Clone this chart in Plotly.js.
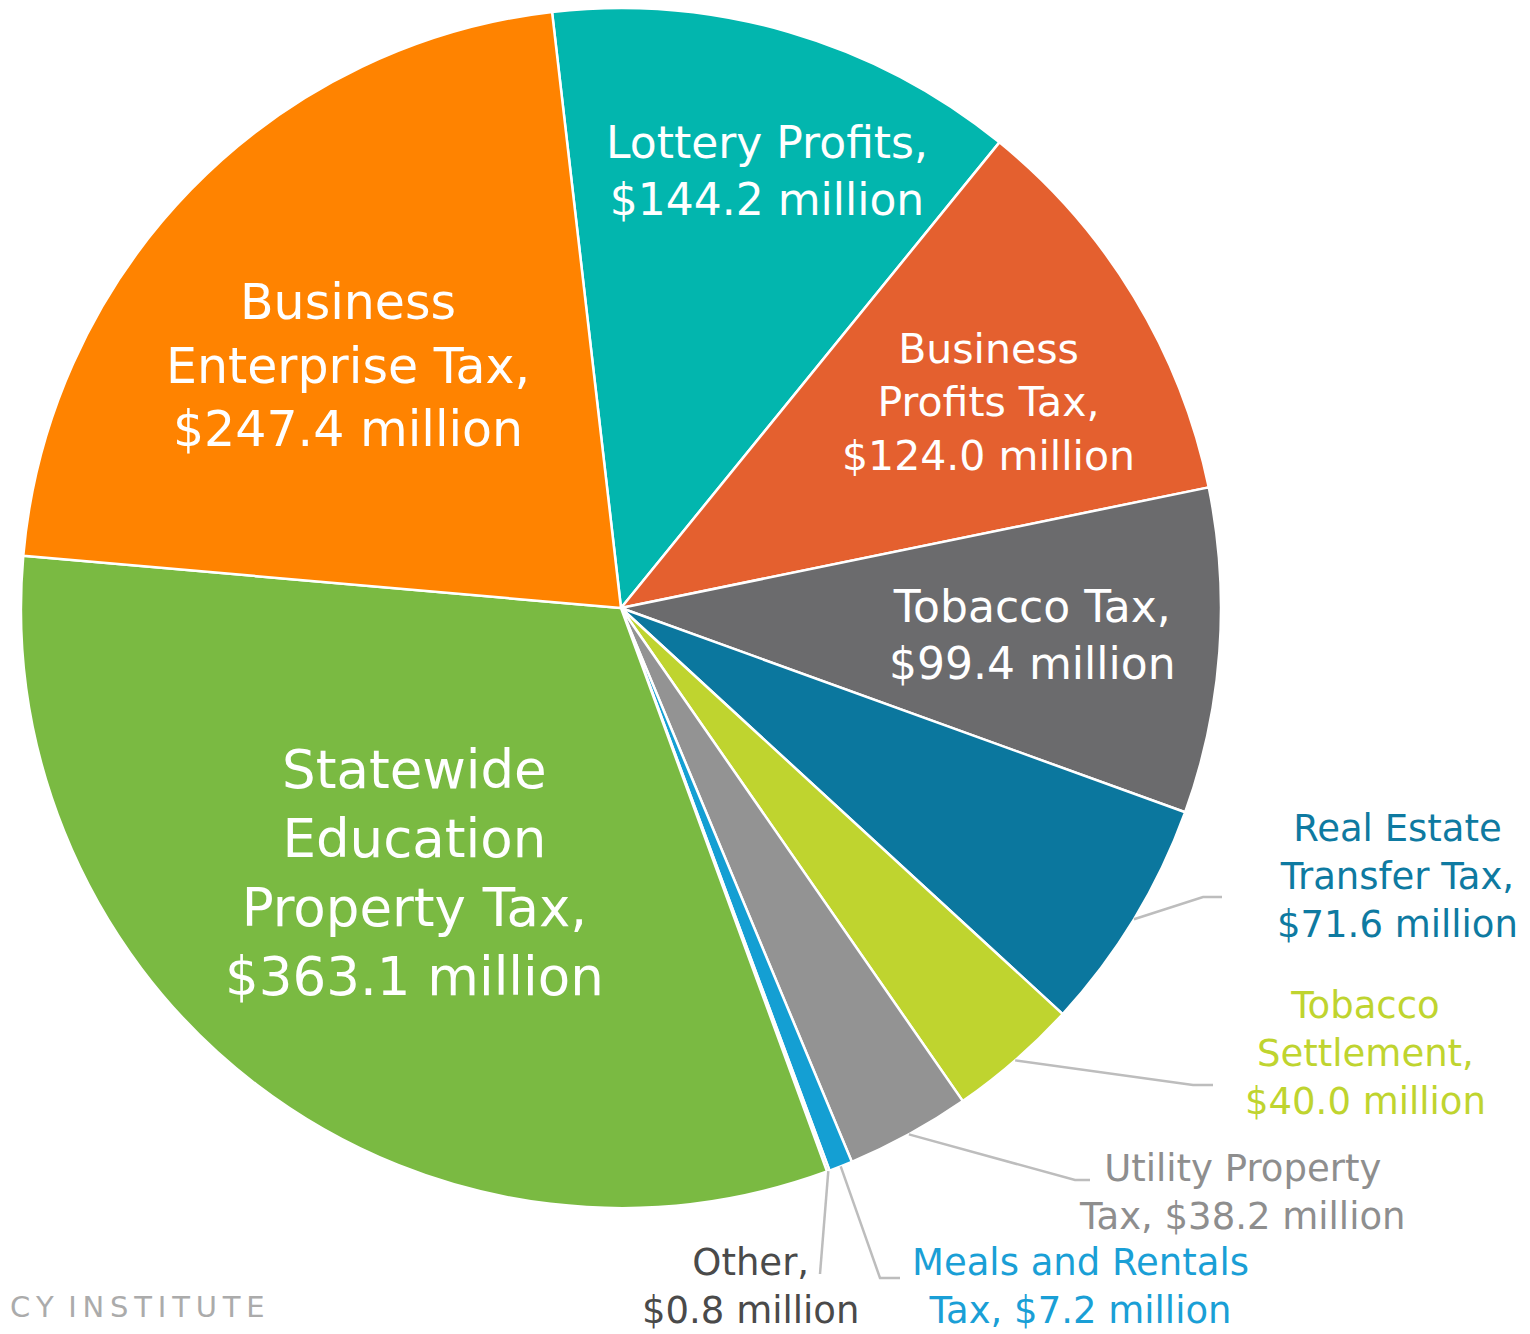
<!DOCTYPE html>
<html>
<head>
<meta charset="utf-8">
<script src="https://cdn.plot.ly/plotly-3.0.1.min.js"></script>
<style>
  html, body { margin: 0; padding: 0; background: #fff; }
  #pie { width: 1530px; height: 1334px; }
</style>
</head>
<body>
<div id="pie"></div>
<script>
// Revenue sources, millions of dollars, in clockwise order from the top
var sources = ['Lottery Profits', 'Business Profits Tax', 'Tobacco Tax',
               'Real Estate Transfer Tax', 'Tobacco Settlement',
               'Utility Property Tax', 'Meals and Rentals Tax', 'Other',
               'Statewide Education Property Tax', 'Business Enterprise Tax'];
var amounts = [144.2, 124.0, 99.4, 71.6, 40.0, 38.2, 7.2, 0.8, 363.1, 247.4];

// label text, {v} gets the amount
var labelText = ['Lottery Profits,<br>{v}',
                 'Business<br>Profits Tax,<br>{v}',
                 'Tobacco Tax,<br>{v}',
                 'Real Estate<br>Transfer Tax,<br>{v}',
                 'Tobacco<br>Settlement,<br>{v}',
                 'Utility Property<br>Tax, {v}',
                 'Meals and Rentals<br>Tax, {v}',
                 'Other,<br>{v}',
                 'Statewide<br>Education<br>Property Tax,<br>{v}',
                 'Business<br>Enterprise Tax,<br>{v}'];

var sliceColors = ['#02b6ae', '#e4602f', '#6b6b6d', '#0b779e', '#bfd42f',
                   '#939393', '#149fd3', '#555555', '#7aba42', '#ff8300'];

// ---- layout bits (pixels) ----
var W = 1530, H = 1334;
var cx = 621, cy = 608, R = 600;
var startRot = -6.6;
var FONT = 'DejaVu Sans, Verdana, sans-serif';

function px(x) { return x / W; }
function py(y) { return 1 - y / H; }

// label placement: [centre x, centre y, font size, colour, bend x, bend y, end x]
var labelPlace = [
    [767, 171, 44, '#ffffff'],
    [988, 402, 41, '#ffffff'],
    [1032, 635, 44, '#ffffff'],
    [1397, 877, 37, '#0e7aa1', 1203, 897, 1222],
    [1365, 1053, 37, '#bfd42f', 1193, 1085, 1213],
    [1242, 1192, 37, '#8e8e8e', 1075, 1180, 1090],
    [1080, 1286, 37, '#1a9fd6', 880, 1278, 900],
    [750, 1286, 37, '#4a4a4a', 820, 1274, 820],
    [414, 873, 53, '#ffffff'],
    [348, 366, 49, '#ffffff']
];

var total = amounts.reduce(function(a, b) { return a + b; }, 0);

var annotations = [];
var shapes = [];
var cum = 0;
for (var i = 0; i < amounts.length; i++) {
    var p = labelPlace[i];
    var txt = labelText[i].replace('{v}', '$' + amounts[i].toFixed(1) + ' million');
    annotations.push({
        xref: 'paper', yref: 'paper',
        x: px(p[0]), y: py(p[1]),
        xanchor: 'center', yanchor: 'middle',
        text: txt, showarrow: false, align: 'center',
        font: {family: FONT, size: p[2], color: p[3]}
    });
    // leader line from the middle of the slice edge
    if (p.length > 4) {
        var ang = (startRot + 360 * (cum + amounts[i] / 2) / total) * Math.PI / 180;
        var x0 = cx + R * Math.sin(ang), y0 = cy - R * Math.cos(ang);
        shapes.push({
            type: 'path', xref: 'paper', yref: 'paper',
            path: 'M ' + px(x0) + ' ' + py(y0) + ' L ' + px(p[4]) + ' ' + py(p[5]) +
                  ' L ' + px(p[6]) + ' ' + py(p[5]),
            line: {color: '#bdbdbd', width: 2.5}
        });
    }
    cum += amounts[i];
}

annotations.push({
    xref: 'paper', yref: 'paper', x: px(8), y: py(1307),
    xanchor: 'left', yanchor: 'middle', showarrow: false,
    text: 'C\u2009Y\u2002I\u2009N\u2009S\u2009T\u2009I\u2009T\u2009U\u2009T\u2009E',
    font: {family: FONT, size: 29, color: '#ababab'}
});

var data = [{
    type: 'pie',
    labels: sources,
    values: amounts,
    sort: false,
    direction: 'clockwise',
    rotation: startRot,
    textinfo: 'none',
    hoverinfo: 'label+value',
    marker: {colors: sliceColors, line: {color: '#ffffff', width: 2.5}},
    domain: {x: [px(cx - R), px(cx + R)], y: [py(cy + R), py(cy - R)]},
    showlegend: false
}];

var layout = {
    width: W, height: H,
    margin: {l: 0, r: 0, t: 0, b: 0},
    paper_bgcolor: '#ffffff',
    showlegend: false,
    annotations: annotations,
    shapes: shapes
};

Plotly.newPlot('pie', data, layout, {displayModeBar: false});
</script>
</body>
</html>
